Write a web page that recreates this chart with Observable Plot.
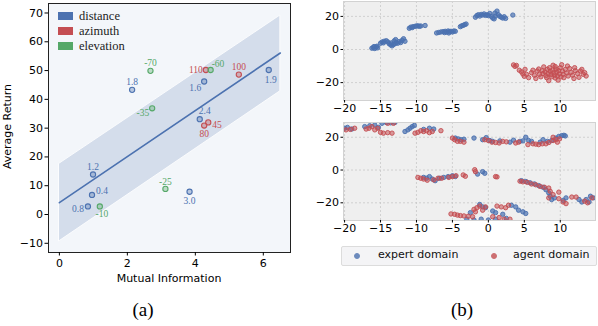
<!DOCTYPE html>
<html>
<head>
<meta charset="utf-8">
<script src="https://cdn.jsdelivr.net/npm/d3@7"></script>
<script src="https://cdn.jsdelivr.net/npm/@observablehq/plot@0.6"></script>
<style>
  body { margin: 0; background: #fff; }
  #wrap { position: relative; width: 598px; height: 326px; overflow: hidden; background: #fff; }
  .abs { position: absolute; }
  .serif { font-family: "Liberation Serif", "Times New Roman", serif; }
  .sans { font-family: "DejaVu Sans", sans-serif; }
</style>
</head>
<body>
<div id="wrap"></div>
<script>
// ---------------- data: panel (a) ----------------
const families = ["distance", "azimuth", "elevation"];
const distanceLabels = ["1.2", "0.4", "0.8", "1.8", "1.6", "2.4", "1.9", "3.0"];
const distanceMI     = [0.99, 0.96, 0.84, 2.14, 4.26, 4.13, 6.16, 3.83];
const distanceReturn = [13.9, 6.8, 2.8, 43.3, 46.2, 33.1, 50.2, 7.9];
const azimuthLabels  = ["110", "100", "45", "80"];
const azimuthMI      = [4.31, 5.28, 4.38, 4.26];
const azimuthReturn  = [50.2, 48.6, 32.0, 30.9];
const elevationLabels = ["-70", "-60", "-35", "-25", "-10"];
const elevationMI     = [2.68, 4.45, 2.73, 3.12, 1.19];
const elevationReturn = [49.9, 50.2, 36.9, 8.9, 2.8];
// fitted line and its band
const fitMI    = [0, 6.5];
const fitValue = [4.1, 56.1];
const fitLower = [-9.3, 42.8];
const fitUpper = [17.6, 69.1];
const xTicksA = [0, 2, 4, 6];
const yTicksA = [-10, 0, 10, 20, 30, 40, 50, 60, 70];

// ---------------- data: panel (b) ----------------
const domainNames = ["expert domain", "agent domain"];
const topExpert = [
  [-16.2,0.8],[-16.0,1.2],[-15.8,0.6],[-15.6,1.5],[-15.4,1.0],[-15.9,1.8],[-15.5,2.0],
  [-15.0,3.8],[-14.8,4.5],[-14.5,5.0],[-14.2,5.3],[-14.0,4.6],[-13.8,3.5],[-13.6,2.8],[-13.4,2.2],
  [-13.2,3.0],[-13.0,3.5],[-12.8,4.2],[-12.6,3.8],[-12.4,4.8],[-12.2,4.2],[-12.0,5.5],[-11.8,6.5],
  [-11.6,5.0],[-12.9,6.0],[-13.1,5.2],[-14.6,4.0],[-13.5,4.0],
  [-11.0,12.8],[-10.8,13.5],[-10.5,13.8],[-10.2,14.0],[-10.0,14.2],[-9.8,14.3],[-9.6,14.0],[-9.4,14.2],[-10.6,13.2],[-8.8,14.5],
  [-7.2,10.0],[-6.9,10.3],[-6.6,10.6],[-6.3,10.8],[-6.0,11.0],[-5.8,10.5],[-5.6,11.2],[-5.4,10.8],[-5.2,11.0],
  [-5.0,10.6],[-4.8,11.2],[-4.6,11.0],[-6.1,10.2],[-5.5,10.0],
  [-3.9,13.8],[-3.7,14.3],[-3.5,14.6],[-3.3,15.0],[-3.1,15.4],
  [-1.8,19.5],[-1.6,20.5],[-1.4,21.0],[-1.2,20.2],[-1.0,21.2],[-0.8,20.8],[-0.6,21.5],[-0.4,20.6],[-0.2,21.0],
  [0.0,20.5],[0.2,21.8],[0.4,20.0],[0.6,19.0],[0.8,18.5],[1.0,20.2],[1.2,23.2],[1.4,21.0],[1.6,20.0],
  [1.8,19.5],[2.0,19.0],[2.2,19.8],[2.4,18.8],[3.4,20.8],[0.9,22.0]
];
const topAgent = [
  [3.5,-9.3],[3.9,-9.6],[3.7,-10.2],[4.3,-12.5],[4.6,-13.5],[4.8,-14.8],[5.1,-12.0],[5.0,-16.2],[5.3,-15.0],
  [5.6,-17.0],[6.0,-14.0],[6.2,-12.5],[6.4,-15.5],[6.6,-17.5],[6.8,-13.0],[7.0,-11.8],[7.1,-15.0],[7.3,-16.5],
  [7.5,-12.8],[7.6,-14.5],[7.7,-10.5],[7.9,-13.5],[8.0,-15.8],[8.1,-17.0],[8.2,-12.0],[8.3,-14.5],[8.4,-18.8],
  [8.5,-11.0],[8.6,-13.2],[8.7,-15.2],[8.8,-16.5],[8.9,-12.5],[9.0,-9.5],[9.1,-14.0],[9.2,-15.5],[9.3,-17.2],
  [9.4,-11.8],[9.5,-13.5],[9.6,-16.0],[9.7,-18.5],[9.8,-12.8],[9.9,-14.8],[10.0,-11.0],[10.1,-16.5],[10.2,-9.2],
  [10.3,-13.0],[10.4,-15.0],[10.5,-17.0],[10.7,-12.0],[10.9,-14.2],[11.1,-16.0],[11.3,-11.5],[11.5,-13.8],
  [11.7,-15.5],[11.9,-17.5],[12.1,-12.8],[12.4,-14.5],[12.6,-16.8],[12.8,-13.0],[13.0,-12.0],[13.2,-15.0],
  [13.4,-14.0],[13.6,-16.0],[12.0,-11.0],[11.0,-10.0],[9.3,-10.3]
];
const bottomExpert = [
  [-20.0,25.5],[-19.6,26.0],[-19.0,25.0],[-17.2,26.5],[-16.5,27.0],[-15.8,27.5],[-15.3,26.0],[-14.8,28.5],
  [-14.2,29.0],[-13.6,28.8],[-13.0,29.0],[-11.6,23.5],[-11.2,24.5],[-10.9,25.5],[-10.6,26.5],[-10.3,27.2],
  [-9.0,24.8],[-8.2,25.5],[-7.6,25.0],
  [-4.6,19.5],[-4.2,19.0],[-3.8,18.5],[-3.4,18.8],[-2.0,19.5],[-0.8,18.5],[-0.3,19.8],[0.2,18.0],[0.6,17.5],
  [1.6,17.8],[3.0,17.0],[3.5,18.2],[4.4,17.5],[4.8,17.8],[5.2,20.0],[5.6,18.0],[6.0,17.5],[7.2,17.0],[7.6,18.5],
  [8.2,17.5],[8.8,18.0],[9.4,19.5],[9.8,20.5],[10.2,21.0],[10.5,21.2],[10.7,20.8],
  [-9.0,-4.5],[-8.6,-5.0],[-8.2,-4.0],[-7.8,-5.5],[-7.4,-6.5],[-6.8,-5.0],[-6.2,-4.5],[-5.6,-4.0],[-5.0,-3.5],
  [-4.6,-4.0],[-1.5,-2.5],[-0.8,-1.0],[-0.5,-2.0],
  [4.6,-6.5],[5.2,-7.0],[5.8,-7.8],[6.4,-8.5],[7.0,-9.5],[7.6,-10.5],[8.0,-12.0],[8.4,-14.0],[8.6,-16.0],
  [8.8,-18.0],[9.2,-17.0],[10.4,-18.5],[10.8,-17.0],[12.6,-18.0],[13.0,-19.5],[13.6,-18.0],[14.2,-16.0],
  [14.6,-17.0],[14.0,-19.5],
  [-1.2,-21.0],[-0.8,-22.5],[-0.4,-23.0],[0.6,-25.0],[1.0,-26.0],[2.0,-27.0],[3.2,-21.5],[3.8,-22.5],[4.2,-24.5],
  [4.8,-25.5],[5.2,-26.5],[-3.0,-30.0],[-2.0,-30.5],[-1.0,-30.0],[0.0,-30.5],[1.0,-30.0],[2.5,-29.5],[-2.5,-26.0]
];
const bottomAgent = [
  [-19.8,24.5],[-19.2,24.8],[-18.6,25.5],[-17.0,25.0],[-16.6,25.5],[-16.2,26.5],[-15.8,24.5],[-15.4,25.5],
  [-15.0,23.0],[-14.6,22.5],[-14.0,22.8],[-13.4,22.5],[-14.0,28.5],[-13.2,28.5],[-10.2,22.5],[-9.8,23.0],
  [-9.4,24.0],[-9.0,23.5],[-8.6,24.0],[-8.2,22.8],[-7.8,23.5],[-6.6,24.0],
  [-5.0,19.5],[-4.7,18.5],[-4.3,17.5],[-3.9,17.5],[-3.4,17.0],[-0.5,18.5],[0.0,18.0],[0.5,17.0],[1.0,16.8],
  [1.5,16.5],[2.0,17.5],[2.5,17.2],[3.8,16.5],[4.2,17.0],[5.5,15.5],[6.2,16.0],[6.6,15.8],[7.0,15.5],[7.5,16.0],
  [8.0,16.0],[8.4,16.8],[9.0,18.0],[9.4,18.5],[9.6,17.0],[9.9,19.0],[9.0,20.0],
  [-9.8,-4.5],[-9.4,-5.0],[-9.0,-5.5],[-8.5,-6.2],[-7.6,-6.0],[-7.0,-5.0],[-6.5,-5.0],[-5.5,-4.5],[-5.0,-4.0],
  [-4.5,-3.5],[-3.5,-3.0],[-3.2,-3.8],[-1.8,-1.0],[-1.9,0.2],[1.0,-4.0],[1.2,-4.2],
  [4.4,-6.8],[4.8,-7.2],[5.4,-7.5],[6.0,-8.5],[6.6,-9.0],[7.2,-10.0],[7.8,-10.5],[8.4,-11.0],[8.6,-13.0],
  [9.0,-15.0],[8.4,-17.0],[9.8,-13.5],[9.8,-17.5],[10.4,-19.5],[10.8,-20.5],[11.6,-16.5],[12.2,-16.5],
  [13.4,-19.0],[13.8,-20.0],[14.4,-17.0],
  [-5.2,-26.8],[-4.7,-27.0],[-4.3,-27.5],[-3.9,-27.8],[-3.4,-28.0],[-2.8,-28.2],[-2.2,-28.5],[-2.0,-24.0],
  [-1.6,-23.0],[-1.2,-22.0],[-0.8,-24.5],[-0.4,-22.5],[-1.8,-25.5],[1.2,-22.0],[1.8,-22.5],[2.4,-23.0],
  [2.8,-21.5],[0.6,-28.5],[1.5,-29.0],[2.2,-30.0],[3.0,-30.0]
];
const xTicksB = [-20, -15, -10, -5, 0, 5, 10];
const yTicksB = [-20, 0, 20];

// ---------------- styles ----------------
const famColor = {distance: "#4c72b0", azimuth: "#c44e52", elevation: "#55a868"};
const domColor = {"expert domain": "#4c72b0", "agent domain": "#c44e52"};
// label placement: [text-anchor, dx, dy]
const labelPlace = {
  "1.8": ["middle", 0, -8], "-70": ["middle", 0, -8], "110": ["end", -3, 0], "-60": ["start", 1, -6],
  "100": ["middle", 0, -8], "1.9": ["middle", 2, 10], "1.6": ["end", -3, 6], "-35": ["end", -3, 5],
  "2.4": ["middle", 5, -8], "45": ["start", 4, 3], "80": ["middle", 0, 8], "1.2": ["middle", 0, -8],
  "0.4": ["start", 4, -4], "0.8": ["end", -4, 3], "-10": ["middle", 2, 8], "-25": ["middle", 0, -7],
  "3.0": ["middle", 0, 9]
};

const wrap = document.getElementById("wrap");
function place(el, left, top) {
  el.classList.add("abs");
  el.style.left = left + "px";
  el.style.top = top + "px";
  wrap.appendChild(el);
  return el;
}
function html(s) { const d = document.createElement("div"); d.innerHTML = s; return d.firstElementChild; }

// ---------------- panel (a) ----------------
const pts = [];
[[ "distance", distanceLabels, distanceMI, distanceReturn ],
 [ "azimuth", azimuthLabels, azimuthMI, azimuthReturn ],
 [ "elevation", elevationLabels, elevationMI, elevationReturn ]].forEach(([fam, labs, xs, ys]) => {
  labs.forEach((l, i) => pts.push({family: fam, label: l, mi: xs[i], ret: ys[i]}));
});
const band = fitMI.map((x, i) => ({mi: x, fit: fitValue[i], lo: fitLower[i], hi: fitUpper[i]}));

const textMarks = pts.map(p => Plot.text([p], {
  x: "mi", y: "ret", text: "label",
  textAnchor: labelPlace[p.label][0], dx: labelPlace[p.label][1], dy: labelPlace[p.label][2],
  fill: famColor[p.family], fontFamily: "Liberation Serif, Times New Roman, serif", fontSize: 9.5,
  lineAnchor: "middle"
}));

const plotA = Plot.plot({
  width: 300, height: 287,
  marginLeft: 48, marginRight: 10, marginTop: 3, marginBottom: 35,
  style: {fontFamily: "DejaVu Sans, sans-serif", fontSize: "11px", background: "transparent", color: "#000"},
  x: {domain: [-0.32, 6.8], label: null},
  y: {domain: [-13.2, 73.3], label: null},
  marks: [
    Plot.frame({fill: "#f3f6fa", stroke: null}),
    Plot.areaY(band, {x: "mi", y1: "lo", y2: "hi", fill: "#d4ddeb", stroke: "#ffffff", strokeWidth: 0.8}),
    Plot.line(band, {x: "mi", y: "fit", stroke: "#4c72b0", strokeWidth: 1.6}),
    Plot.dot(pts, {x: "mi", y: "ret", r: 2.6, stroke: d => famColor[d.family], fill: d => famColor[d.family],
                   fillOpacity: 0.35, strokeWidth: 1.1}),
    ...textMarks,
    Plot.frame({stroke: "#222", strokeWidth: 1}),
    Plot.axisX({ticks: xTicksA, tickSize: 3.5, tickPadding: 3, label: null, fontSize: 11}),
    Plot.axisY({ticks: yTicksA, tickSize: 3.5, tickPadding: 2, label: null, fontSize: 11})
  ]
});
place(plotA, 0, 0);

// axis titles
place(html(`<div class="sans" style="font-size:11px;width:200px;text-align:center;">Mutual Information</div>`), 69, 272);
place(html(`<div class="sans" style="font-size:11px;width:200px;text-align:center;transform:rotate(-90deg);transform-origin:center;">Average Return</div>`), -93, 120);

// legend for (a)
families.forEach((f, i) => {
  place(html(`<div style="width:15px;height:8px;background:${famColor[f]};"></div>`), 58, 12 + i * 14.8);
  place(html(`<div class="serif" style="font-size:12.5px;line-height:14px;color:#222;">${f}</div>`), 79, 9 + i * 14.8);
});

// caption (a)
place(html(`<div class="serif" style="font-size:19px;width:60px;text-align:center;">(a)</div>`), 113, 299);

// ---------------- panel (b) ----------------
function tsnePanel(expert, agent, marginTop, height) {
  const e = expert.map(([x, y]) => ({x, y, dom: "expert domain"}));
  const a = agent.map(([x, y]) => ({x, y, dom: "agent domain"}));
  return Plot.plot({
    width: 298, height,
    marginLeft: 43, marginRight: 3, marginTop, marginBottom: 14,
    style: {fontFamily: "DejaVu Sans, sans-serif", fontSize: "11px", background: "transparent", color: "#000"},
    x: {domain: [-20.15, 14.9], label: null},
    y: {domain: [-30.8, 29.0], label: null},
    marks: [
      Plot.frame({fill: "#efefef", stroke: null}),
      Plot.gridX({ticks: xTicksB, stroke: "#c8c8c8", strokeOpacity: 1, strokeDasharray: "2,2", strokeWidth: 0.8}),
      Plot.gridY({ticks: yTicksB, stroke: "#c8c8c8", strokeOpacity: 1, strokeDasharray: "2,2", strokeWidth: 0.8}),
      Plot.dot(e, {x: "x", y: "y", r: 2.2, stroke: domColor["expert domain"], fill: domColor["expert domain"],
                   fillOpacity: 0.7, strokeWidth: 0.9, clip: true}),
      Plot.dot(a, {x: "x", y: "y", r: 2.2, stroke: domColor["agent domain"], fill: domColor["agent domain"],
                   fillOpacity: 0.55, strokeWidth: 0.9, clip: true}),
      Plot.frame({stroke: "#d2d2d2", strokeWidth: 1}),
      Plot.axisX({ticks: xTicksB, tickSize: 2.5, tickPadding: 1, label: null, fontSize: 11}),
      Plot.axisY({ticks: yTicksB, tickSize: 2.5, tickPadding: 2, label: null, fontSize: 11})
    ]
  });
}
place(tsnePanel(topExpert, topAgent, 1, 114), 300, 0);
place(tsnePanel(bottomExpert, bottomAgent, 8, 120), 300, 114);

// legend for (b)
const legB = html(`<div style="width:254px;height:18px;background:#f4f4f6;border:1px solid #dcdcdc;border-radius:2px;"></div>`);
place(legB, 341, 246);
domainNames.forEach((d, i) => {
  const cx = [356, 493][i];
  place(html(`<div style="width:4px;height:4px;border-radius:50%;background:${domColor[d]};opacity:0.8;border:0.8px solid ${domColor[d]};"></div>`), cx - 2.5, 252.5);
  place(html(`<div class="sans" style="font-size:11px;line-height:14px;color:#111;white-space:nowrap;">${d}</div>`), [378, 513][i], 248);
});

// caption (b)
place(html(`<div class="serif" style="font-size:19px;width:60px;text-align:center;">(b)</div>`), 432, 299);
</script>
</body>
</html>
